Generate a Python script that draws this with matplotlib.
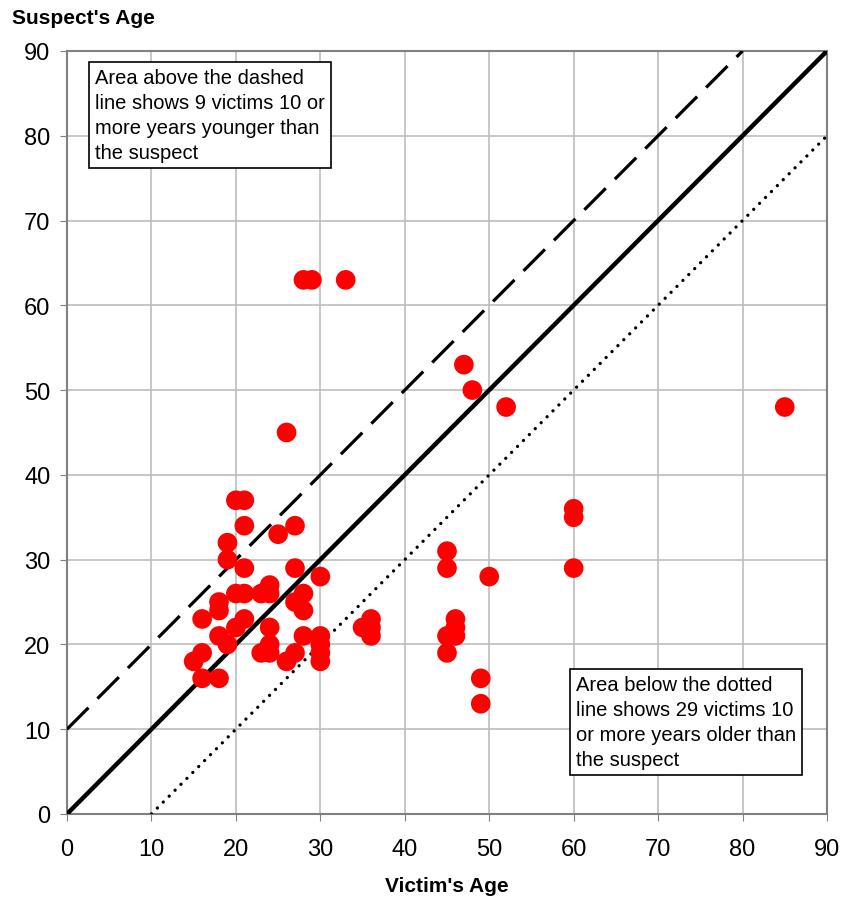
import matplotlib.pyplot as plt
import numpy as np

plt.rcParams['font.family'] = ['Liberation Sans', 'DejaVu Sans']

# Victim age vs suspect age
victim_age = [15, 16, 16, 16, 18, 18, 19, 18, 18, 19, 19, 20, 21, 21, 21, 20, 21, 20, 21,
              23, 24, 24, 24, 23, 24, 24, 25, 27, 27, 30, 27, 28, 28, 28, 30, 26, 27,
              30, 30, 30, 26, 28, 29, 33, 47, 48, 52, 85, 60, 60, 60, 45, 45, 50, 35,
              36, 36, 36, 46, 46, 46, 45, 45, 49, 49]
suspect_age = [18, 23, 19, 16, 16, 21, 20, 24, 25, 32, 30, 37, 37, 34, 29, 26, 26, 22, 23,
               26, 27, 26, 22, 19, 19, 20, 33, 34, 29, 28, 25, 26, 24, 21, 21, 18, 19,
               20, 19, 18, 45, 63, 63, 63, 53, 50, 48, 48, 36, 35, 29, 31, 29, 28, 22,
               23, 22, 21, 23, 22, 21, 21, 19, 16, 13]

ticks = [0, 10, 20, 30, 40, 50, 60, 70, 80, 90]

fig = plt.figure(figsize=(8.43, 9.04), dpi=100)
ax = fig.add_axes([0.0795, 0.0985, 0.9015, 0.844])

ref = np.array([0, 90])
ax.plot(ref, ref, color='black', lw=3.2, zorder=3)
ax.plot([0, 80], [10, 90], color='black', lw=2.3, dashes=(9.5, 4), zorder=3)
ax.plot([10, 90], [0, 80], color='black', lw=2.4, dashes=(0.01, 2.5),
        dash_capstyle='round', zorder=3)

ax.scatter(victim_age, suspect_age, s=200, color='#ff0000', edgecolors='none', zorder=4)

ax.set_xlim(0, 90)
ax.set_ylim(0, 90)
ax.set_xticks(ticks)
ax.set_yticks(ticks)
ax.tick_params(labelsize=17, length=5, color='#808080')
ax.tick_params(axis='x', pad=12)
ax.tick_params(axis='y', pad=7)
ax.grid(True, color='#bdbdbd', lw=1.2)
ax.set_axisbelow(True)
for s in ax.spines.values():
    s.set_color('#808080')
    s.set_linewidth(1.5)

ax.set_xlabel("Victim's Age", fontsize=15, fontweight='bold', labelpad=12)
fig.text(0.014, 0.98, "Suspect's Age", fontsize=15, fontweight='bold', va='center')

box = dict(boxstyle='square,pad=0.3', facecolor='white', edgecolor='black', lw=1.2)
ax.text(3.3, 88.0, "Area above the dashed\nline shows 9 victims 10 or\nmore years younger than\nthe suspect",
        fontsize=14.5, va='top', ha='left', bbox=box, linespacing=1.4, zorder=5)
ax.text(60.3, 16.4, "Area below the dotted\nline shows 29 victims 10\nor more years older than\nthe suspect",
        fontsize=14.5, va='top', ha='left', bbox=box, linespacing=1.4, zorder=5)

fig.savefig('out.png', dpi=100)
